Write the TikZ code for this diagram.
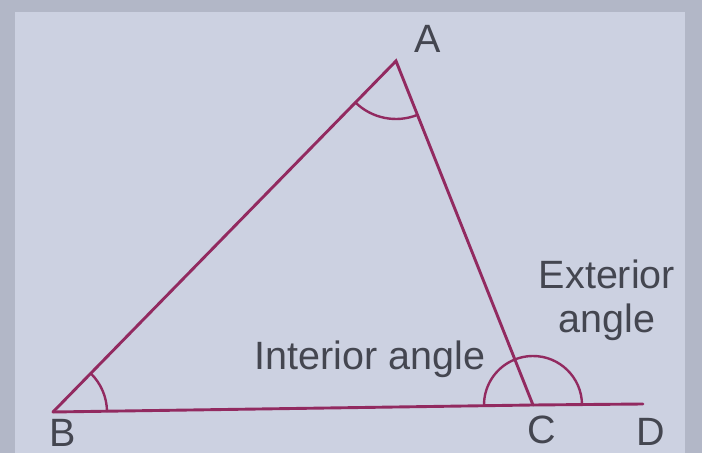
\documentclass[tikz,border=0pt]{standalone}
\usepackage{fontspec}
\setmainfont{Liberation Sans}
\usetikzlibrary{angles}
\definecolor{pagecol}{RGB}{204,209,225}
\definecolor{edgecol}{RGB}{178,183,199}
\definecolor{linecol}{RGB}{146,42,96}
\definecolor{txtcol}{RGB}{68,70,80}
\begin{document}
\begin{tikzpicture}[x=1pt, y=1pt, line cap=round,
  side/.style={draw=linecol, line width=2.9pt},
  angmark/.style={draw=linecol, line width=2.4pt},
  lbl/.style={text=txtcol, inner sep=0pt, anchor=base, font=\fontsize{39.5}{44}\selectfont}]
% page of the book
\fill[edgecol] (0,0) rectangle (702,453);
\fill[pagecol] (15,0) rectangle (685,441);
% vertices
\coordinate (B) at (53,41);
\coordinate (A) at (396,392);
\coordinate (C) at (533,48);
\coordinate (D) at (643,49);
% sides, BC produced to D
\draw[side] (B) -- (A) -- (C);
\draw[side] (B) -- (C) -- (D);
% angle marks
\pic[angmark, angle radius=58pt] {angle = B--A--C};
\pic[angmark, angle radius=54pt] {angle = C--B--A};
\pic[angmark, angle radius=49pt] {angle = D--C--B};
% labels
\node[lbl] (labA) at (428,400) {A};
\node[lbl] (labB) at (63,7) {B};
\node[lbl] (labC) at (542,10) {C};
\node[lbl] (labD) at (651,8) {D};
\node[lbl] (interior) at (370,83) {Interior angle};
\node[lbl, align=center] (exterior) at (607,120) {Exterior\\angle};
\end{tikzpicture}
\end{document}
